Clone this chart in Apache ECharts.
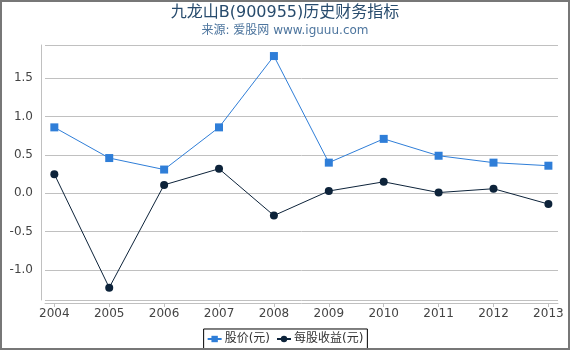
<!DOCTYPE html>
<html><head><meta charset="utf-8">
<script src="https://cdn.jsdelivr.net/npm/echarts@6/dist/echarts.min.js"></script>
<style>html,body{margin:0;padding:0;background:#fff}#c{width:570px;height:350px}</style>
</head><body><div id="c"></div>
<script>
const years = [2004, 2005, 2006, 2007, 2008, 2009, 2010, 2011, 2012, 2013];
const price = [0.86, 0.46, 0.31, 0.86, 1.79, 0.40, 0.71, 0.49, 0.40, 0.36];
const eps = [0.25, -1.23, 0.11, 0.32, -0.29, 0.03, 0.15, 0.01, 0.06, -0.14];
const seriesNames = ['股价(元)', '每股收益(元)'];
const yTicks = [-1.0, -0.5, 0.0, 0.5, 1.0, 1.5];

const font = 'DejaVu Sans, "Noto Sans CJK SC", sans-serif';
const chart = echarts.init(document.getElementById('c'), null, {renderer: 'canvas'});
chart.setOption({
  animation: false,
  backgroundColor: '#fff',
  title: {
    text: '九龙山B(900955)历史财务指标',
    subtext: '来源: 爱股网 www.iguuu.com',
    left: 'center', top: 0,
    itemGap: 4,
    textStyle: {fontFamily: font, fontSize: 16, fontWeight: 'normal', color: '#274b6d'},
    subtextStyle: {fontFamily: font, fontSize: 12, color: '#4d759e'}
  },
  grid: {left: 45, right: 12, top: 45, bottom: 50, containLabel: false},
  xAxis: {
    type: 'value', min: 2003.83, max: 2013.175, offset: 3,
    axisLine: {show: true, onZero: false, lineStyle: {color: '#c0c0c0', width: 1}},
    axisTick: {show: true, length: 4, lineStyle: {color: '#c0c0c0'}, customValues: years},
    splitLine: {show: false},
    axisLabel: {
      fontFamily: font, fontSize: 12, color: '#444', margin: 5,
      customValues: years,
      formatter: v => String(Math.round(v))
    }
  },
  yAxis: {
    type: 'value', min: -1.391, max: 1.934, offset: 4,
    axisLine: {show: true, lineStyle: {color: '#c0c0c0'}},
    axisTick: {show: false},
    splitLine: {show: true, lineStyle: {color: '#c0c0c0', width: 1}, customValues: yTicks},
    axisLabel: {
      fontFamily: font, fontSize: 12, color: '#444', margin: 8,
      customValues: yTicks,
      formatter: v => v.toFixed(1)
    }
  },
  legend: {
    bottom: 1, left: 'center',
    borderColor: '#000', borderWidth: 1, borderRadius: 0,
    padding: [4, 4, 4, 3],
    itemGap: 6, itemWidth: 14, itemHeight: 8,
    textStyle: {fontFamily: font, fontSize: 12, color: '#333', padding: [0, 0, 0, -2]},
    data: seriesNames
  },
  series: [
    {
      name: seriesNames[0], type: 'line',
      data: years.map((y, i) => [y, price[i]]),
      symbol: 'rect', symbolSize: 8,
      lineStyle: {color: '#2f7ed8', width: 1},
      itemStyle: {color: '#2f7ed8'}
    },
    {
      name: seriesNames[1], type: 'line',
      data: years.map((y, i) => [y, eps[i]]),
      symbol: 'circle', symbolSize: 8,
      lineStyle: {color: '#0d233a', width: 1},
      itemStyle: {color: '#0d233a'}
    }
  ],
  graphic: [{
    type: 'rect', silent: true, z: 100,
    shape: {x: 1, y: 1, width: 568, height: 348},
    style: {fill: null, stroke: '#777', lineWidth: 2}
  }]
});
</script></body></html>
